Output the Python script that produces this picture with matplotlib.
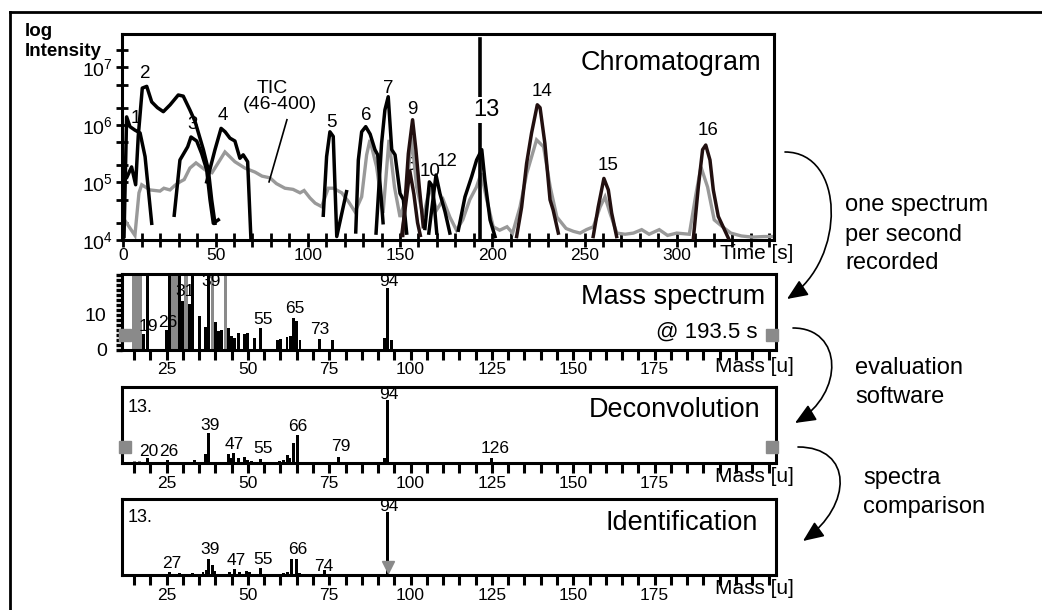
import matplotlib
matplotlib.use('Agg')
import matplotlib.pyplot as plt
import numpy as np
from matplotlib.patches import FancyArrowPatch
from matplotlib.path import Path
from matplotlib.ticker import MultipleLocator, FixedLocator, FixedFormatter, NullFormatter
from matplotlib.lines import Line2D

plt.rcParams['font.family'] = ['Liberation Sans', 'DejaVu Sans']
plt.rcParams['mathtext.default'] = 'regular'

# ---------------- data: chromatogram (time [s], log10 intensity) ----------------
tic_t = [0, 6.3, 8.5, 10, 14.5, 19.9, 22, 25.3, 28, 30.7, 33, 36.1, 39.4, 44.3, 48.1, 52.4, 55.1,
         60.5, 65.9, 71.4, 75.2, 79.5, 83, 87.6, 92, 95.8, 98, 101.2, 104, 107.5, 111.1, 113.8,
         118.4, 122, 125.6, 129.2, 131.9, 133.7, 137.3, 140.8, 144, 147, 150, 153, 156.3, 159,
         162.6, 166.2, 169.8, 173.4, 177, 180.6, 184, 187.8, 191.4, 194, 197, 200.5, 204, 208,
         211, 215, 218.7, 224, 227.8, 231.4, 235, 240, 244, 247.6, 251, 254.8, 258.4, 261.1,
         263.8, 267.5, 272, 276.5, 281, 285, 290.5, 295, 300, 306.8, 310.4, 313.1, 316.7, 320.3,
         324.8, 329.3, 335, 341, 347, 352]
tic_log = [4.38, 4.08, 4.82, 4.96, 4.87, 4.85, 4.9, 4.87, 4.95, 5.01, 5.05, 5.25, 5.34, 5.22, 5.17,
           5.39, 5.53, 5.36, 5.25, 5.18, 5.11, 5.08, 4.98, 4.9, 4.88, 4.82, 4.86, 4.73, 4.64, 4.58,
           4.9, 4.9, 4.82, 4.67, 4.49, 4.75, 5.48, 5.74, 5.27, 4.47, 5.74, 4.92, 4.4, 4.7, 5.8,
           4.92, 4.4, 4.92, 4.52, 4.7, 4.4, 4.17, 4.35, 4.7, 4.92, 5.16, 4.7, 4.23, 4.17, 4.23,
           4.12, 4.57, 5.16, 5.74, 5.62, 4.92, 4.4, 4.2, 4.15, 4.12, 4.18, 4.23, 4.57, 4.75,
           4.47, 4.12, 4.1, 4.12, 4.18, 4.1, 4.18, 4.08, 4.12, 4.1, 4.8, 5.27, 4.92, 4.35,
           4.23, 4.12, 4.07, 4.05, 4.06, 4.06]

peak1_t = [0.4, 1.8, 3.6, 6.3, 9.1, 11.8, 15.4]
peak1_log = [4.06, 6.14, 5.97, 5.91, 5.86, 5.45, 4.29]
peak2_t = [0, 1.8, 4.5, 6.7, 8.1, 10.3, 12.7, 15.4, 18.5, 21.7, 25.4, 29.8, 32.5, 36.1, 38.9, 43.4, 46.1, 47.9, 49.7]
peak2_log = [5.04, 5.08, 5.27, 4.96, 5.8, 6.64, 6.67, 6.4, 6.3, 6.23, 6.35, 6.52, 6.5, 6.26, 6.06, 5.57, 5.22, 4.7, 4.29]
peak3_t = [27.6, 30.7, 34.9, 36.7, 39.8, 42.5, 45.2, 47, 48.8, 51.5]
peak3_log = [4.43, 5.39, 5.62, 5.79, 5.72, 5.5, 5.22, 4.7, 4.29, 4.35]
peak4_t = [45.2, 49.7, 53, 55.2, 57.8, 60.5, 63.2, 65, 67.4, 69.2]
peak4_log = [5.01, 5.57, 5.94, 5.88, 5.77, 5.72, 5.42, 5.48, 5.36, 4.0]
peak5_t = [108.4, 110.2, 112, 113.8, 115.7, 121]
peak5_log = [4.43, 5.45, 5.88, 5.8, 4.06, 4.84]
peak6_t = [126, 127.4, 129.2, 131.4, 133.8, 136.4, 137.9, 140, 140.8]
peak6_log = [4.14, 5.39, 5.88, 5.97, 5.84, 5.57, 5.48, 4.64, 4.3]
peak7_t = [137, 140, 141.8, 143.6, 145.5, 147.3, 150, 151.8, 153.6]
peak7_log = [4.12, 5.68, 6.26, 6.49, 5.57, 5.48, 4.81, 4.7, 4.12]
peak8_t = [150.9, 153, 155.3, 157.5, 159.5, 161]
peak8_log = [4.08, 4.6, 5.2, 4.8, 4.3, 4.08]
peak9_t = [151.5, 154.5, 156.8, 158.6, 160.4, 162.6]
peak9_log = [4.08, 5.5, 6.09, 5.57, 4.93, 4.23]
peak10_t = [163.5, 165.9, 167.7, 169.9]
peak10_log = [4.2, 5.01, 4.93, 4.12]
peak12_t = [165.6, 169.5, 171.6, 174.4, 177]
peak12_log = [4.12, 5.13, 4.81, 4.49, 4.12]
peak13_t = [181.6, 185.2, 188.8, 191.5, 194.3, 196, 198.8, 201.5]
peak13_log = [4.17, 4.75, 5.1, 5.39, 5.57, 5.04, 4.35, 4.06]
peak14_t = [213.2, 215.9, 218.6, 221.3, 224.4, 225.9, 228.5, 231.3, 233, 235.8]
peak14_log = [4.06, 4.57, 5.33, 5.86, 6.35, 6.3, 5.68, 4.7, 4.52, 4.12]
peak15_t = [254.7, 257.4, 260.5, 262.9, 264.7, 267.4]
peak15_log = [4.06, 4.57, 5.07, 4.87, 4.47, 4.06]
peak16_t = [309, 311.7, 314, 315.7, 318, 319.8, 322.5, 328]
peak16_log = [4.03, 4.93, 5.57, 5.65, 5.39, 4.87, 4.41, 4.03]

peak_labels = ['1', '2', '3', '4', '5', '6', '7', '8', '9', '10', '12', '14', '15', '16']
peak_label_t = [7.0, 11.8, 37.8, 54, 113, 131.9, 143.6, 155.8, 156.8, 166.5, 175.5, 226.8, 262.5, 317]
peak_label_log = [6.12, 6.89, 6.0, 6.17, 6.05, 6.17, 6.64, 5.3, 6.26, 5.19, 5.37, 6.58, 5.29, 5.91]

spectrum_time = 193.5

# ---------------- data: mass spectrum @ 193.5 s ----------------
ms_black_mass = [18, 19, 25, 26, 29, 30, 32, 33, 35, 37, 38, 40, 41, 42, 44, 45, 46, 47, 49, 50,
                 52, 54, 59, 60, 62, 63, 64, 65, 66, 72, 76, 92, 93, 94]
ms_black_int = [4.5, 30, 5.8, 30, 30, 14.1, 13.2, 30, 9.6, 6.7, 30, 8.0, 5.5, 5.8, 6.3, 3.9, 3.4,
                4.9, 4.5, 4.9, 3.4, 6.3, 2.9, 3.2, 3.6, 4.0, 9.1, 8.4, 2.9, 3.2, 2.9, 3.4, 17.7, 2.9]
ms_gray_mass = [15, 16, 17, 27, 28, 31, 39, 43]
ms_gray_int = [30, 30, 30, 30, 30, 30, 30, 30]
ms_labels = ['19', '26', '31', '39', '55', '65', '73', '94']
ms_label_mass = [19.4, 25.4, 30.6, 38.6, 54.6, 64.4, 72.1, 93.3]
ms_label_int = [6.8, 7.9, 16.6, 19.7, 8.6, 11.8, 5.8, 19.7]
ms_marker_mass = [12.3, 211]
ms_marker_int = [4.3, 4.3]

# ---------------- data: deconvolution ----------------
dc_black_mass = [19, 25.4, 33.6, 37, 38, 43.9, 44.9, 45.6, 47, 49, 50, 51.1, 53.9, 59.8, 60.8,
                 62.1, 62.9, 63.9, 65.1, 77.9, 91.9, 92.9, 124.9]
dc_black_int = [6.6, 4.4, 4.4, 11.8, 39.4, 12.3, 7, 14, 7, 7.9, 4.4, 3, 5.5, 3, 4.4, 11, 6.6,
                26.3, 37.2, 8.7, 7, 83, 7.4]
dc_gray_mass = [15.2, 16.7, 28.0, 29.5, 31.1]
dc_gray_int = [3, 3, 2, 2, 2]
dc_labels = ['20', '26', '39', '47', '55', '66', '79', '94', '126']
dc_label_mass = [19.5, 25.6, 38.5, 45.9, 54.6, 65.4, 78.6, 93.3, 126]
dc_label_int = [16, 16, 50, 25, 18.8, 48, 22, 90, 19.7]
dc_marker_mass = [12.3, 211]
dc_marker_int = [21.8, 21.8]

# ---------------- data: identification ----------------
id_mass = [25.9, 29.0, 33.1, 36.2, 37.2, 38.0, 39.1, 39.8, 44.4, 45.9, 47.5, 49.5, 50.6, 53.9,
           60.8, 62.3, 63.4, 64.9, 65.9, 73.6, 92.9]
id_int = [4.4, 3, 3, 4.4, 6.6, 20.6, 13.2, 5, 4.4, 7.5, 4, 5, 3.5, 9.6, 3, 3.5, 20.6, 20.6, 3,
          6.6, 83]
id_labels = ['27', '39', '47', '55', '66', '74', '94']
id_label_mass = [26.5, 38.5, 46.5, 54.6, 65.4, 73.3, 93.3]
id_label_int = [15.4, 33, 19, 21, 33, 10.9, 90]
id_marker_mass = [93.0]
id_marker_int = [10.5]

time_ticks = [0, 50, 100, 150, 200, 250, 300]
mass_ticks = [25, 50, 75, 100, 125, 150, 175]

# ---------------- figure ----------------
W, H = 1042, 610
fig = plt.figure(figsize=(W / 100, H / 100), dpi=100)


def rect(l, t, r, b):
    return [l / W, 1 - b / H, (r - l) / W, (b - t) / H]


def fx(x):
    return x / W


def fy(y):
    return 1 - y / H


BLACK = 'black'
DARK = '#221010'
GRAY = '#999999'
GRAY2 = '#8a8a8a'
SPINE_LW = 2.2

# ---- chromatogram ----
ax1 = fig.add_axes(rect(122, 34, 774, 240))
ax1.set_yscale('log')
ax1.set_xlim(-0.7, 352.7)
ax1.set_ylim(1e4, 10 ** 7.58)
for s in ax1.spines.values():
    s.set_linewidth(SPINE_LW)
ax1.xaxis.set_major_locator(FixedLocator(time_ticks))
ax1.xaxis.set_minor_locator(MultipleLocator(10))
ax1.yaxis.set_major_locator(FixedLocator([1e4, 1e5, 1e6, 1e7]))
ax1.yaxis.set_major_formatter(FixedFormatter(['$10^{4}$', '$10^{5}$', '$10^{6}$', '$10^{7}$']))
ax1.yaxis.set_minor_locator(FixedLocator([m * 10 ** e for e in range(4, 8) for m in (2, 5)]))
ax1.yaxis.set_minor_formatter(NullFormatter())
ax1.tick_params(axis='x', which='both', direction='inout', length=10, width=2, labelsize=12.5, pad=1)
ax1.tick_params(axis='y', which='both', direction='inout', length=9, width=2, labelsize=14, pad=2)

ax1.plot(tic_t, 10 ** np.array(tic_log), color=GRAY, lw=2.4, zorder=2, solid_joinstyle='miter')
peaks = [(peak1_t, peak1_log, BLACK), (peak2_t, peak2_log, BLACK), (peak3_t, peak3_log, BLACK),
         (peak4_t, peak4_log, BLACK), (peak5_t, peak5_log, BLACK), (peak6_t, peak6_log, BLACK),
         (peak7_t, peak7_log, BLACK), (peak8_t, peak8_log, DARK), (peak9_t, peak9_log, DARK),
         (peak10_t, peak10_log, BLACK), (peak12_t, peak12_log, BLACK), (peak13_t, peak13_log, BLACK),
         (peak14_t, peak14_log, DARK), (peak15_t, peak15_log, DARK), (peak16_t, peak16_log, DARK)]
for t, lg, c in peaks:
    ax1.plot(t, 10 ** np.array(lg), color=c, lw=2.5, zorder=3)

for lab, t, lg in zip(peak_labels, peak_label_t, peak_label_log):
    ax1.text(t, 10 ** lg, lab, ha='center', va='center', fontsize=13.5, zorder=1)

ax1.plot([spectrum_time, spectrum_time], [1e4, 10 ** 7.49], color=BLACK, lw=2.6, zorder=4)
ax1.text(197, 10 ** 6.26, '13', ha='center', va='center', fontsize=17, zorder=5,
         bbox=dict(facecolor='white', edgecolor='none', pad=1.5))

ax1.text(80.7, 10 ** 6.64, 'TIC', ha='center', va='center', fontsize=14)
ax1.text(85, 10 ** 6.35, '(46-400)', ha='center', va='center', fontsize=14)
ax1.plot([88.7, 79], [10 ** 6.09, 10 ** 5.01], color=BLACK, lw=1.2)
ax1.text(0.981, 0.859, 'Chromatogram', transform=ax1.transAxes, ha='right', va='center', fontsize=19.5)


def mass_axis(ax):
    for s in ax.spines.values():
        s.set_linewidth(SPINE_LW)
    ax.set_xlim(11.3, 212.3)
    ax.xaxis.set_major_locator(FixedLocator(mass_ticks))
    ax.xaxis.set_minor_locator(MultipleLocator(5))
    ax.tick_params(axis='x', which='both', direction='out', length=7, width=2.2, labelsize=12.5, pad=2)


# ---- mass spectrum ----
ax2 = fig.add_axes(rect(122, 274, 776, 350))
mass_axis(ax2)
ax2.set_ylim(0, 21.7)
ax2.yaxis.set_major_locator(FixedLocator([0, 10]))
ax2.yaxis.set_minor_locator(MultipleLocator(10 / 7))
ax2.tick_params(axis='y', which='both', direction='out', length=4, width=2.4, labelsize=14, pad=7)
ax2.bar(ms_gray_mass, ms_gray_int, width=1.0, color=GRAY2, linewidth=0, zorder=2)
ax2.bar(ms_black_mass, ms_black_int, width=0.9, color=BLACK, linewidth=0, zorder=3)
ax2.plot(ms_marker_mass, ms_marker_int, 's', color=GRAY2, markersize=8, clip_on=False, zorder=5)
for lab, m, v in zip(ms_labels, ms_label_mass, ms_label_int):
    ax2.text(m, v, lab, ha='center', va='center', fontsize=12.5, zorder=4)
ax2.text(0.983, 0.70, 'Mass spectrum', transform=ax2.transAxes, ha='right', va='center', fontsize=19.5)
ax2.text(0.971, 0.24, '@ 193.5 s', transform=ax2.transAxes, ha='right', va='center', fontsize=16)

# ---- deconvolution ----
ax3 = fig.add_axes(rect(122, 387, 776, 463.3))
mass_axis(ax3)
ax3.set_ylim(0, 100)
ax3.set_yticks([])
ax3.bar(dc_gray_mass, dc_gray_int, width=1.0, color=GRAY2, linewidth=0, zorder=2)
ax3.bar(dc_black_mass, dc_black_int, width=0.9, color=BLACK, linewidth=0, zorder=3)
ax3.plot(dc_marker_mass, dc_marker_int, 's', color=GRAY2, markersize=8, clip_on=False, zorder=5)
for lab, m, v in zip(dc_labels, dc_label_mass, dc_label_int):
    ax3.text(m, v, lab, ha='center', va='center', fontsize=12.5, zorder=4)
ax3.text(0.008, 0.73, '13.', transform=ax3.transAxes, ha='left', va='center', fontsize=13)
ax3.text(0.976, 0.70, 'Deconvolution', transform=ax3.transAxes, ha='right', va='center', fontsize=19.5)

# ---- identification ----
ax4 = fig.add_axes(rect(122, 499, 776, 575))
mass_axis(ax4)
ax4.set_ylim(0, 100)
ax4.set_yticks([])
ax4.bar(id_mass, id_int, width=0.9, color=BLACK, linewidth=0, zorder=3)
ax4.plot(id_marker_mass, id_marker_int, 'v', color=GRAY2, markersize=9, clip_on=False, zorder=5)
for lab, m, v in zip(id_labels, id_label_mass, id_label_int):
    ax4.text(m, v, lab, ha='center', va='center', fontsize=12.5, zorder=4)
ax4.text(0.008, 0.76, '13.', transform=ax4.transAxes, ha='left', va='center', fontsize=13)
ax4.text(0.972, 0.68, 'Identification', transform=ax4.transAxes, ha='right', va='center', fontsize=19.5)

# ---- axis titles ----
fig.text(fx(25), fy(31), 'log', fontsize=13.5, fontweight='bold', ha='left', va='center')
fig.text(fx(25), fy(51), 'Intensity', fontsize=13.5, fontweight='bold', ha='left', va='center')
fig.text(fx(720), fy(254), 'Time [s]', fontsize=15, ha='left', va='center')
for yy in (366, 476, 589):
    fig.text(fx(715), fy(yy), 'Mass [u]', fontsize=15, ha='left', va='center')

# ---- outer frame ----
fig.add_artist(Line2D([fx(10), fx(1042)], [fy(12), fy(12)], transform=fig.transFigure, color=BLACK, lw=2))
fig.add_artist(Line2D([fx(10), fx(10)], [fy(12), fy(612)], transform=fig.transFigure, color=BLACK, lw=2))


# ---- curved arrows ----
def curved_arrow(p0, c1, c2, p3):
    pts = [(fx(p[0]), fy(p[1])) for p in (p0, c1, c2, p3)]
    path = Path(pts, [Path.MOVETO, Path.CURVE4, Path.CURVE4, Path.CURVE4])
    arr = FancyArrowPatch(path=path, arrowstyle='-|>,head_length=0.7,head_width=0.3',
                          mutation_scale=18, color=BLACK, lw=1.2, transform=fig.transFigure)
    fig.add_artist(arr)


curved_arrow((785, 152), (845, 152), (847, 259), (787, 299))
curved_arrow((793, 328), (843, 328), (845, 393), (795, 423))
curved_arrow((798, 447), (853, 447), (853, 505), (803, 541))

for txt, yy in (('one spectrum', 205), ('per second', 235), ('recorded', 263)):
    fig.text(fx(845), fy(yy), txt, fontsize=17, ha='left', va='center')
for txt, yy in (('evaluation', 368), ('software', 397)):
    fig.text(fx(855), fy(yy), txt, fontsize=17, ha='left', va='center')
for txt, yy in (('spectra', 478), ('comparison', 507)):
    fig.text(fx(863), fy(yy), txt, fontsize=17, ha='left', va='center')

fig.savefig('out.png', dpi=100)
